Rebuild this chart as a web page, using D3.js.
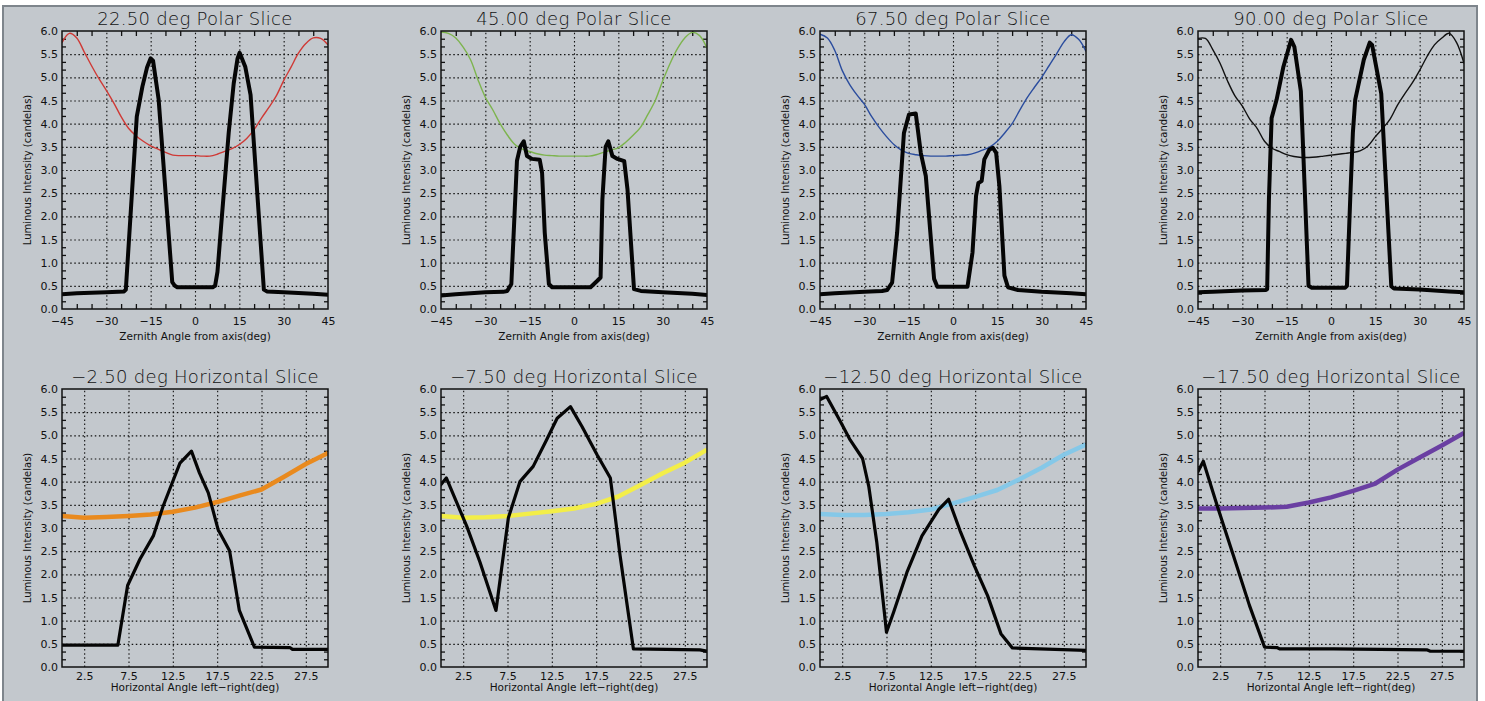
<!DOCTYPE html>
<html>
<head>
<meta charset="utf-8">
<script src="https://cdn.jsdelivr.net/npm/d3@7"></script>
<style>
  body { margin: 0; background: #ffffff; }
  svg text { font-family: "DejaVu Sans", sans-serif; fill: #111; }
</style>
</head>
<body>
<svg id="chart" width="1485" height="701"></svg>
<script>
// ---- data ----
const polarTitles = ["22.50 deg Polar Slice", "45.00 deg Polar Slice", "67.50 deg Polar Slice", "90.00 deg Polar Slice"];
const horizTitles = ["\u22122.50 deg Horizontal Slice", "\u22127.50 deg Horizontal Slice", "\u221212.50 deg Horizontal Slice", "\u221217.50 deg Horizontal Slice"];

const polarTickLabels = [-45, -30, -15, 0, 15, 30, 45];
const polarMinorTicks = [-40, -35, -25, -20, -10, -5, 5, 10, 20, 25, 35, 40];
const horizTickLabels = [2.5, 7.5, 12.5, 17.5, 22.5, 27.5];
const yTickLabels = [0, 0.5, 1, 1.5, 2, 2.5, 3, 3.5, 4, 4.5, 5, 5.5, 6];

// smooth reference curves, sampled every 2.5 deg
const polarAngles = [-45, -42.5, -40, -37.5, -35, -32.5, -30, -27.5, -25, -22.5, -20, -17.5, -15, -12.5, -10, -7.5, -5, -2.5, 0,
  2.5, 5, 7.5, 10, 12.5, 15, 17.5, 20, 22.5, 25, 27.5, 30, 32.5, 35, 37.5, 40, 42.5, 45];
const polar22Ref = [5.75, 5.95, 5.85, 5.55, 5.25, 4.97, 4.72, 4.45, 4.15, 3.9, 3.74, 3.62, 3.52, 3.45, 3.38, 3.32, 3.31, 3.31, 3.31,
  3.3, 3.3, 3.34, 3.4, 3.46, 3.55, 3.68, 3.87, 4.12, 4.35, 4.6, 4.93, 5.22, 5.52, 5.73, 5.85, 5.84, 5.7];
const polar45Ref = [5.98, 5.95, 5.85, 5.65, 5.38, 4.95, 4.57, 4.3, 4.0, 3.75, 3.55, 3.45, 3.4, 3.35, 3.32, 3.31, 3.3, 3.3, 3.3,
  3.3, 3.3, 3.33, 3.38, 3.43, 3.48, 3.6, 3.75, 3.92, 4.2, 4.5, 4.92, 5.3, 5.62, 5.85, 5.97, 5.9, 5.63];
const polar67Ref = [5.93, 5.85, 5.58, 5.15, 4.85, 4.62, 4.42, 4.15, 3.92, 3.72, 3.55, 3.43, 3.36, 3.33, 3.31, 3.3, 3.3, 3.3, 3.31,
  3.32, 3.33, 3.37, 3.43, 3.5, 3.62, 3.8, 4.0, 4.28, 4.55, 4.78, 5.0, 5.25, 5.5, 5.76, 5.92, 5.82, 5.56];
const polar90Ref = [5.84, 5.84, 5.6, 5.3, 4.92, 4.6, 4.38, 4.1, 3.9, 3.62, 3.47, 3.4, 3.33, 3.29, 3.27, 3.27, 3.28, 3.3, 3.32,
  3.34, 3.36, 3.38, 3.42, 3.52, 3.72, 3.9, 4.1, 4.4, 4.65, 4.88, 5.15, 5.45, 5.7, 5.85, 5.95, 5.75, 5.3];

// measured black curves (breakpoints)
const polar22Ang = [-45, -40, -35, -30, -24, -23.4, -19.7, -17.8, -16.2, -15, -14.2, -12.3, -7.7, -6.8, -6, 6, 6.8, 7.6, 9.1, 11.4, 13.1, 14.4, 15.1, 17, 18.8, 23.3, 24.3, 30, 40, 45];
const polar22Val = [0.32, 0.34, 0.35, 0.36, 0.38, 0.42, 4.15, 4.8, 5.22, 5.41, 5.36, 4.52, 0.58, 0.5, 0.47, 0.47, 0.5, 0.8, 2.0, 3.8, 4.87, 5.41, 5.53, 5.23, 4.62, 0.42, 0.38, 0.36, 0.33, 0.31];
const polar45Ang = [-45, -40, -30, -24, -22.6, -21.2, -20.4, -19.3, -18.2, -17, -15.9, -14.2, -11.6, -10.8, -9.9, -8.5, -7.4, 5.6, 7.9, 9, 9.6, 10.7, 11.6, 13, 14.7, 17, 18.1, 20.3, 22.6, 30, 40, 45];
const polar45Val = [0.29, 0.32, 0.36, 0.37, 0.39, 0.54, 1.65, 3.2, 3.5, 3.62, 3.3, 3.24, 3.22, 2.94, 1.65, 0.54, 0.47, 0.47, 0.61, 0.68, 2.36, 3.5, 3.62, 3.3, 3.24, 3.19, 2.58, 0.43, 0.39, 0.36, 0.33, 0.3];
const polar67Ang = [-45, -40, -30, -24, -22.3, -20.6, -18.9, -16.6, -14.9, -12.6, -10.9, -9.2, -6.4, -5.3, 4.9, 6.6, 7.8, 8.6, 9.7, 10.6, 12.3, 13.5, 14.6, 15.7, 17.4, 18.6, 22, 30, 40, 45];
const polar67Val = [0.32, 0.34, 0.37, 0.39, 0.41, 0.57, 1.65, 3.8, 4.2, 4.22, 3.37, 2.87, 0.65, 0.48, 0.48, 1.22, 2.44, 2.72, 2.76, 3.23, 3.44, 3.48, 3.37, 2.65, 0.72, 0.47, 0.41, 0.37, 0.34, 0.32];
const polar90Ang = [-45, -40, -30, -22, -21.6, -21, -20.1, -18.4, -16.1, -13.5, -12.4, -10.2, -7.6, -6.5, 4.8, 5.4, 6.5, 7.4, 8.2, 11.1, 13.1, 13.9, 17, 20.4, 21.3, 30, 40, 45];
const polar90Val = [0.36, 0.37, 0.4, 0.41, 0.43, 2.37, 4.12, 4.52, 5.23, 5.81, 5.66, 4.7, 0.5, 0.46, 0.46, 0.5, 2.37, 3.8, 4.52, 5.38, 5.75, 5.7, 4.65, 0.49, 0.44, 0.42, 0.38, 0.36];

// horizontal slices
const horizAngles = [0, 2.5, 5, 7.5, 10, 12.5, 15, 17.5, 20, 22.5, 25, 27.5, 30];
const horiz2Ref = [3.26, 3.22, 3.24, 3.26, 3.29, 3.35, 3.44, 3.56, 3.7, 3.83, 4.1, 4.38, 4.62];
const horiz7Ref = [3.26, 3.22, 3.23, 3.26, 3.31, 3.36, 3.42, 3.52, 3.68, 3.93, 4.18, 4.41, 4.69];
const horiz12Ref = [3.3, 3.28, 3.28, 3.3, 3.34, 3.4, 3.53, 3.67, 3.82, 4.05, 4.3, 4.58, 4.8];
const horiz17Ref = [3.42, 3.42, 3.43, 3.44, 3.46, 3.55, 3.66, 3.8, 3.96, 4.26, 4.52, 4.78, 5.05];

const horiz2Ang = [0, 6.3, 7.4, 8.8, 10.3, 11.4, 13.3, 14.6, 15.5, 16.5, 17.6, 18.9, 20, 21.7, 25.7, 26, 30];
const horiz2Val = [0.47, 0.47, 1.76, 2.33, 2.83, 3.47, 4.4, 4.66, 4.19, 3.76, 2.97, 2.51, 1.22, 0.43, 0.42, 0.38, 0.38];
const horiz7Ang = [0, 0.6, 2.9, 4.4, 6.2, 7.6, 8.9, 10.4, 11.9, 13.1, 14.6, 15.9, 17.6, 19.1, 20.2, 21.7, 29.2, 30];
const horiz7Val = [3.94, 4.08, 3.04, 2.26, 1.22, 3.22, 4.0, 4.33, 4.9, 5.37, 5.62, 5.19, 4.58, 4.08, 2.4, 0.39, 0.37, 0.34];
const horiz12Ang = [0, 0.75, 2.3, 3.4, 4.8, 5.5, 6.4, 7.5, 8.3, 9.8, 11.5, 13.4, 14.5, 15.8, 17.4, 18.9, 20.4, 21.7, 30];
const horiz12Val = [5.77, 5.84, 5.3, 4.9, 4.5, 3.9, 2.7, 0.75, 1.18, 2.04, 2.83, 3.4, 3.62, 2.94, 2.19, 1.54, 0.72, 0.41, 0.36];
const horiz17Ang = [0, 0.6, 2.3, 4, 5.8, 7.5, 8.9, 9.2, 15.3, 25.8, 26.2, 30];
const horiz17Val = [4.22, 4.44, 3.4, 2.4, 1.33, 0.43, 0.42, 0.39, 0.39, 0.37, 0.34, 0.34];

const polarColors = ["#cf3a36", "#7db44e", "#2b4d9e", "#111111"];
const horizColors = ["#e98a1e", "#f3ee48", "#85c8e8", "#6a3fa2"];

// ---- layout ----
const svg = d3.select("#chart");
const colLeft = [62, 441, 820, 1198];
const plotW = 266, plotH = 278;
const rowTop = [31, 389];

svg.append("rect")
  .attr("x", 3).attr("y", 6).attr("width", 1474).attr("height", 720)
  .attr("fill", "#c3c8cd").attr("stroke", "#7e858c").attr("stroke-width", 2);

const zip = (xs, ys) => xs.map((x, i) => ({x: x, y: ys[i]}));

function drawPanel(idx, cfg) {
  const g = svg.append("g").attr("transform", "translate(" + cfg.left + "," + cfg.top + ")");
  const x = d3.scaleLinear().domain(cfg.xDomain).range([0, plotW]);
  const y = d3.scaleLinear().domain([0, 6]).range([plotH, 0]);

  // dotted grid
  g.append("g").attr("class", "grid")
    .attr("transform", "translate(0," + plotH + ")")
    .call(d3.axisBottom(x).tickValues(cfg.gridX).tickSize(-plotH).tickFormat(""));
  g.append("g").attr("class", "grid")
    .call(d3.axisLeft(y).tickValues(yTickLabels.slice(1, -1)).tickSize(-plotW).tickFormat(""));
  g.selectAll(".grid .domain").remove();
  g.selectAll(".grid line")
    .attr("stroke", "#111").attr("stroke-width", 1.1).attr("stroke-dasharray", "1.5,2.6");

  // minor ticks, drawn inward on all four sides
  const yMinor = d3.range(0, 36).map(i => i / 6).filter(v => v > 0 && Math.round(v * 6) % 3 !== 0);
  const tk = [];
  tk.push(g.append("g").call(d3.axisLeft(y).tickValues(yMinor).tickSize(-4).tickFormat("")));
  tk.push(g.append("g").attr("transform", "translate(" + plotW + ",0)")
    .call(d3.axisRight(y).tickValues(yMinor).tickSize(-4).tickFormat("")));
  if (cfg.minorX) {
    tk.push(g.append("g").attr("transform", "translate(0," + plotH + ")")
      .call(d3.axisBottom(x).tickValues(cfg.minorX).tickSize(-5).tickFormat("")));
    tk.push(g.append("g").call(d3.axisTop(x).tickValues(cfg.minorX).tickSize(-5).tickFormat("")));
  }
  tk.forEach(t => {
    t.select(".domain").remove();
    t.selectAll("line").attr("stroke", "#111").attr("stroke-width", 1.3);
  });

  // curves
  const clipId = "clip" + idx;
  g.append("clipPath").attr("id", clipId)
    .append("rect").attr("width", plotW).attr("height", plotH);
  const lines = g.append("g").attr("clip-path", "url(#" + clipId + ")");
  const refLine = d3.line().x(d => x(d.x)).y(d => y(d.y)).curve(cfg.refCurve);
  const blkLine = d3.line().x(d => x(d.x)).y(d => y(d.y));
  lines.append("path")
    .attr("d", refLine(zip(cfg.refX, cfg.refY)))
    .attr("fill", "none").attr("stroke", cfg.refColor).attr("stroke-width", cfg.refWidth)
    .attr("stroke-linejoin", "round");
  lines.append("path")
    .attr("d", blkLine(zip(cfg.blkX, cfg.blkY)))
    .attr("fill", "none").attr("stroke", "#050505").attr("stroke-width", cfg.blkWidth)
    .attr("stroke-linejoin", "round").attr("stroke-linecap", "square");

  // frame
  g.append("rect").attr("width", plotW).attr("height", plotH)
    .attr("fill", "none").attr("stroke", "#111").attr("stroke-width", 1.5);

  // tick labels
  const yl = g.append("g").call(d3.axisLeft(y).tickValues(yTickLabels).tickSize(0).tickPadding(4).tickFormat(d3.format(".1f")));
  yl.select(".domain").remove();
  yl.selectAll("text").attr("font-size", 11).attr("font-family", "DejaVu Sans");

  const xl = g.append("g").attr("transform", "translate(0," + plotH + ")")
    .call(d3.axisBottom(x).tickValues(cfg.labelX).tickSize(0).tickPadding(cfg.xPad).tickFormat(cfg.xFormat));
  xl.select(".domain").remove();
  xl.selectAll("text").attr("font-size", 11).attr("font-family", "DejaVu Sans");

  // titles
  g.append("text").attr("x", plotW / 2).attr("y", -6.5)
    .attr("text-anchor", "middle").attr("font-size", 18).attr("font-weight", 200)
    .attr("letter-spacing", 0.3).text(cfg.title);
  g.append("text").attr("x", plotW / 2).attr("y", plotH + cfg.xTitleOff)
    .attr("text-anchor", "middle").attr("font-size", 10.5).text(cfg.xTitle);
  g.append("text")
    .attr("transform", "translate(-31," + (plotH / 2) + ") rotate(-90)")
    .attr("text-anchor", "middle").attr("font-size", 10).text("Luminous Intensity (candelas)");
}

const fmtPolar = d => d < 0 ? "\u2212" + Math.abs(d) : String(d);

const polarRef = [polar22Ref, polar45Ref, polar67Ref, polar90Ref];
const polarBlk = [[polar22Ang, polar22Val], [polar45Ang, polar45Val], [polar67Ang, polar67Val], [polar90Ang, polar90Val]];
polarTitles.forEach((t, i) => {
  drawPanel(i, {
    left: colLeft[i], top: rowTop[0], xDomain: [-45, 45],
    gridX: [-30, -15, 0, 15, 30], minorX: polarMinorTicks,
    labelX: polarTickLabels, xFormat: fmtPolar, xPad: 8,
    title: t, xTitle: "Zernith Angle from axis(deg)", xTitleOff: 31,
    refX: polarAngles, refY: polarRef[i], refColor: polarColors[i], refWidth: 1.4,
    refCurve: d3.curveCatmullRom,
    blkX: polarBlk[i][0], blkY: polarBlk[i][1], blkWidth: 4
  });
});

const horizRef = [horiz2Ref, horiz7Ref, horiz12Ref, horiz17Ref];
const horizBlk = [[horiz2Ang, horiz2Val], [horiz7Ang, horiz7Val], [horiz12Ang, horiz12Val], [horiz17Ang, horiz17Val]];
horizTitles.forEach((t, i) => {
  drawPanel(i + 4, {
    left: colLeft[i], top: rowTop[1], xDomain: [0, 30],
    gridX: horizTickLabels, minorX: null,
    labelX: horizTickLabels, xFormat: d3.format(".1f"), xPad: 5,
    title: t, xTitle: "Horizontal Angle left\u2212right(deg)", xTitleOff: 24,
    refX: horizAngles, refY: horizRef[i], refColor: horizColors[i], refWidth: 4.5,
    refCurve: d3.curveLinear,
    blkX: horizBlk[i][0], blkY: horizBlk[i][1], blkWidth: 3.2
  });
});
</script>
</body>
</html>
